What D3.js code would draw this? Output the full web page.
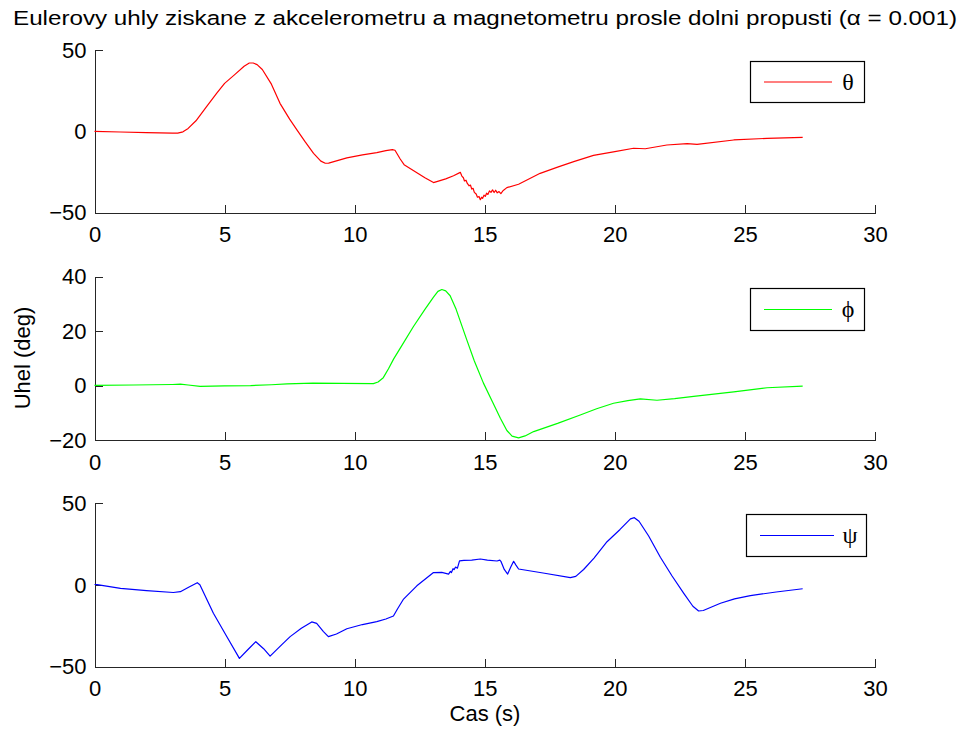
<!DOCTYPE html>
<html>
<head>
<meta charset="utf-8">
<script src="https://cdn.jsdelivr.net/npm/d3@7"></script>
<style>
  html, body { margin: 0; padding: 0; background: #fff; }
  svg { display: block; }
  .axis text { font-family: "Liberation Sans", Arial, Helvetica, sans-serif; font-size: 22px; fill: #000; }
  .axis path, .axis line { stroke: #262626; stroke-width: 1; shape-rendering: crispEdges; }
</style>
</head>
<body>
<svg id="chart" width="964" height="731"></svg>
<script>
// Euler angles from accelerometer + magnetometer after a low-pass filter.
// Each series: [time (s), angle (deg)]
const theta = [
  [0,0],[1.0,-0.4],[2.0,-0.8],[3.0,-1.1],[3.2,-1.1],[3.4,-0.3],[3.6,1.8],[3.9,6.5],
  [4.3,15],[4.7,23.5],[5.0,29.5],[5.4,35],[5.75,40],[5.95,42],[6.1,42],[6.25,41],
  [6.45,38],[6.8,29],[7.13,17.2],[7.5,7.5],[7.8,0.5],[8.1,-6.5],[8.42,-13.5],[8.7,-18.3],
  [8.87,-19.6],[9.0,-19.5],[9.7,-16.3],[10.3,-14.5],[10.85,-13.1],[11.2,-11.9],[11.45,-11.2],
  [11.55,-11.6],[11.75,-17],[11.9,-20.5],[12.3,-24.5],[12.7,-28.5],[13.03,-31.5],[13.5,-29.2],
  [13.8,-27.3],[14.06,-25.2],[14.12,-27.5],[14.18,-28.5],[14.22,-30.5],[14.28,-30],[14.33,-32],
  [14.4,-33.5],[14.45,-33],[14.5,-35.5],[14.55,-35],[14.6,-37.5],[14.67,-38.5],[14.72,-40.5],
  [14.78,-40],[14.83,-42],[14.88,-40.5],[14.92,-41.2],[14.97,-39.2],[15.02,-40],[15.07,-38],
  [15.12,-38.8],[15.18,-36.6],[15.24,-37.5],[15.3,-36],[15.36,-37.6],[15.42,-36.2],[15.48,-37.8],
  [15.55,-37],[15.62,-38.3],[15.7,-36.5],[15.85,-34.6],[16.3,-32.5],[17.13,-25.8],[17.8,-22],
  [18.42,-18.6],[19.18,-14.8],[20.0,-12.5],[20.72,-10.4],[21.17,-10.7],[22.0,-8.4],[22.78,-7.6],
  [23.16,-8],[24.57,-5.3],[25.85,-4.3],[27.22,-3.7]
];

const phi = [
  [0,0.1],[1.5,0.2],[3.0,0.4],[3.3,0.5],[3.6,0.2],[4.06,-0.3],[5.0,-0.1],[6.0,0],[6.8,0.3],
  [7.4,0.6],[8.4,0.9],[9.5,0.8],[10.72,0.7],[10.9,1.3],[11.1,2.9],[11.3,6.2],[11.5,9.8],
  [11.8,14.5],[12.26,21.7],[12.7,28],[13.03,32.5],[13.2,34.6],[13.35,35.3],[13.5,34.8],
  [13.67,33],[13.9,28],[14.31,16.8],[14.6,9],[14.95,0.9],[15.3,-6],[15.6,-12],[15.85,-16.5],
  [16.05,-18.6],[16.3,-19.2],[16.55,-18.5],[16.88,-16.9],[17.8,-13.9],[18.67,-10.8],[19.3,-8.5],
  [19.95,-6.5],[20.5,-5.5],[20.98,-4.9],[21.62,-5.4],[22.3,-4.8],[23.03,-4.0],[24.57,-2.3],
  [25.85,-0.8],[27.22,-0.2]
];

const psi = [
  [0,0.3],[0.1,0.2],[1.0,-2.1],[2.0,-3.5],[3.03,-4.6],[3.3,-4.1],[3.6,-1.5],[3.95,1.4],
  [4.05,0.2],[4.57,-17.3],[5.1,-32],[5.57,-44.9],[5.9,-39.5],[6.2,-34.7],[6.5,-39],[6.75,-43.5],
  [7.2,-36.5],[7.52,-31.6],[7.95,-26.5],[8.35,-22.6],[8.54,-23.5],[8.8,-28.5],[8.99,-31.6],
  [9.3,-30],[9.7,-26.8],[10.3,-24.2],[10.85,-22.4],[11.2,-20.8],[11.49,-19],[11.65,-14.5],
  [11.88,-8.6],[12.39,-0.5],[13.03,7.6],[13.35,7.7],[13.61,6.7],[13.68,8.3],[13.72,7.6],
  [13.78,10.0],[13.82,9.4],[13.88,11.0],[13.95,10.3],[14.03,14.8],[14.2,15.1],[14.5,15.2],
  [14.83,15.9],[15.1,15.2],[15.47,14.7],[15.58,15.2],[15.62,14.5],[15.75,9.5],[15.88,6.7],
  [16.0,11],[16.11,14.5],[16.2,12.2],[16.3,9.8],[17.3,7.2],[18.29,4.5],[18.5,5.3],[18.8,9.5],
  [19.2,16.5],[19.7,26.5],[20.2,34],[20.6,40.5],[20.75,41.2],[20.93,39],[21.3,30],[21.75,17],
  [22.2,5.5],[22.65,-5.1],[23.0,-13],[23.22,-15.9],[23.4,-15.6],[24.06,-11.2],[24.6,-8.5],
  [25.21,-6.5],[26.2,-4.3],[27.22,-2.3]
];

const xTicks = [0, 5, 10, 15, 20, 25, 30];
const thetaTicks = [-50, 0, 50];
const phiTicks = [-20, 0, 20, 40];
const psiTicks = [-50, 0, 50];

const titleText = "Eulerovy uhly ziskane z akcelerometru a magnetometru prosle dolni propusti (\u03B1 = 0.001)";
const yLabel = "Uhel (deg)";
const xLabel = "Cas (s)";

const panels = [
  { data: theta, domain: [-50, 50], ticks: thetaTicks, color: "#ff0000", symbol: "\u03B8",
    top: 50, bottom: 212.7, legend: { x: 750, y: 61, w: 114, h: 41 } },
  { data: phi, domain: [-20, 40], ticks: phiTicks, color: "#00ff00", symbol: "\u03D5",
    top: 276.7, bottom: 440, legend: { x: 750, y: 288, w: 114, h: 42 } },
  { data: psi, domain: [-50, 50], ticks: psiTicks, color: "#0000ff", symbol: "\u03C8",
    top: 503.3, bottom: 666.7, legend: { x: 746, y: 514, w: 120, h: 42 } }
];

const svg = d3.select("#chart");
const x = d3.scaleLinear().domain([0, 30]).range([94.5, 875]);

panels.forEach(p => {
  const y = d3.scaleLinear().domain(p.domain).range([p.bottom, p.top]);
  const g = svg.append("g");

  g.append("g")
    .attr("class", "axis")
    .attr("transform", `translate(0,${p.bottom})`)
    .call(d3.axisBottom(x).tickValues(xTicks).tickSizeInner(-8).tickSizeOuter(0).tickPadding(14));

  g.append("g")
    .attr("class", "axis")
    .attr("transform", `translate(${x(0)},0)`)
    .call(d3.axisLeft(y).tickValues(p.ticks).tickSizeInner(-8).tickSizeOuter(0).tickPadding(8));

  const line = d3.line().x(d => x(d[0])).y(d => y(d[1]));
  g.append("path")
    .datum(p.data)
    .attr("d", line)
    .attr("fill", "none")
    .attr("stroke", p.color)
    .attr("stroke-width", 1.2)
    .attr("stroke-linejoin", "round");

  // legend
  const L = p.legend;
  const lg = g.append("g").attr("transform", `translate(${L.x},${L.y})`);
  lg.append("rect")
    .attr("x", 0.5).attr("y", 0.5)
    .attr("width", L.w).attr("height", L.h)
    .attr("fill", "#fff").attr("stroke", "#000").attr("stroke-width", 1.2);
  lg.append("line")
    .attr("x1", 14).attr("x2", L.w - 32)
    .attr("y1", L.h / 2 + 0.5).attr("y2", L.h / 2 + 0.5)
    .attr("stroke", p.color).attr("stroke-width", 1.1);
  lg.append("text")
    .attr("x", L.w - 16).attr("y", L.h / 2 + 8)
    .attr("text-anchor", "middle")
    .attr("font-family", "'Liberation Serif', 'DejaVu Serif', serif")
    .attr("font-size", 24)
    .text(p.symbol);
});

svg.append("text")
  .attr("x", 485).attr("y", 25)
  .attr("text-anchor", "middle")
  .attr("font-family", "'Liberation Sans', Arial, sans-serif")
  .attr("font-size", 20.5)
  .attr("textLength", 944)
  .attr("lengthAdjust", "spacingAndGlyphs")
  .text(titleText);

svg.append("text")
  .attr("transform", "translate(30,358) rotate(-90)")
  .attr("text-anchor", "middle")
  .attr("font-family", "'Liberation Sans', Arial, sans-serif")
  .attr("font-size", 22)
  .text(yLabel);

svg.append("text")
  .attr("x", 485).attr("y", 721)
  .attr("text-anchor", "middle")
  .attr("font-family", "'Liberation Sans', Arial, sans-serif")
  .attr("font-size", 22)
  .text(xLabel);
</script>
</body>
</html>
